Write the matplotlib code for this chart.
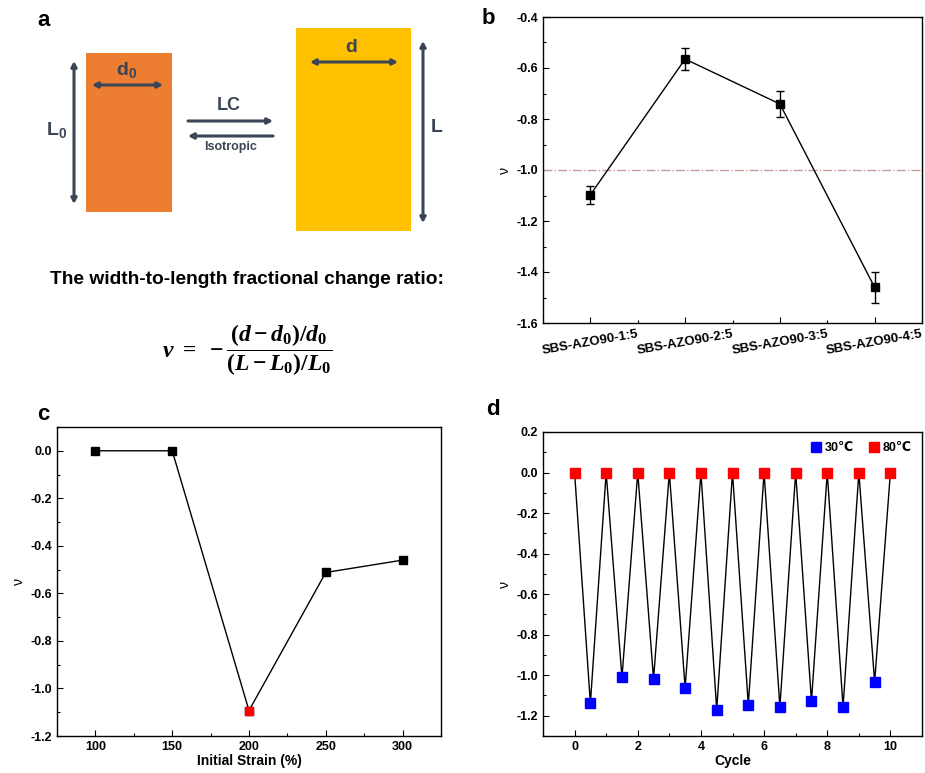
import matplotlib
matplotlib.use('Agg')
import matplotlib.pyplot as plt
from matplotlib.patches import Rectangle, FancyArrowPatch
from matplotlib.ticker import MultipleLocator, FormatStrFormatter
import numpy as np

plt.rcParams['font.family'] = ['Liberation Sans', 'DejaVu Sans']
plt.rcParams['font.weight'] = 'bold'
plt.rcParams['mathtext.fontset'] = 'custom'
plt.rcParams['mathtext.rm'] = 'Liberation Serif:bold'
plt.rcParams['mathtext.it'] = 'Liberation Serif:bold:italic'
plt.rcParams['mathtext.bf'] = 'Liberation Serif:bold'

# panel b data
samples = ['SBS-AZO90-1:5', 'SBS-AZO90-2:5', 'SBS-AZO90-3:5', 'SBS-AZO90-4:5']
ratio_b = [-1.097, -0.565, -0.741, -1.46]
err_b = [0.035, 0.042, 0.05, 0.06]

# panel c data
strain = [100, 150, 200, 250, 300]
ratio_c = [0.0, 0.0, -1.093, -0.512, -0.46]

# panel d data
cycle = [0, 0.5, 1, 1.5, 2, 2.5, 3, 3.5, 4, 4.5, 5, 5.5, 6, 6.5, 7, 7.5, 8, 8.5, 9, 9.5, 10]
ratio_d = [0.0, -1.139, 0.0, -1.011, 0.0, -1.019, 0.0, -1.063, 0.0, -1.170, 0.0,
           -1.145, 0.0, -1.157, 0.0, -1.129, 0.0, -1.157, 0.0, -1.034, 0.0]

W, H = 925, 773
fig = plt.figure(figsize=(W / 100, H / 100), dpi=100)


def fax(x0, y0, x1, y1):
    # pixel box -> figure axes
    return fig.add_axes([x0 / W, 1 - y1 / H, (x1 - x0) / W, (y1 - y0) / H])


def style(ax):
    ax.tick_params(which='both', direction='in', labelsize=9, width=0.8)
    ax.tick_params(which='major', length=4)
    ax.tick_params(which='minor', length=2.5)
    for s in ax.spines.values():
        s.set_linewidth(1.0)


# ---- panel a: schematic ----
axa = fax(0, 0, 470, 380)
axa.set_xlim(0, 470)
axa.set_ylim(380, 0)
axa.axis('off')
dark = '#3b4555'
axa.add_patch(Rectangle((86, 53), 86, 159, color='#ed7d31', lw=0))
axa.add_patch(Rectangle((296, 28), 115, 203, color='#ffc000', lw=0))


def arr(x0, y0, x1, y1, style_='<|-|>'):
    axa.add_patch(FancyArrowPatch((x0, y0), (x1, y1), arrowstyle=style_ + ',head_length=3,head_width=1.6',
                                  color=dark, lw=2.2, shrinkA=0, shrinkB=0))


arr(74, 61, 74, 204)
arr(92, 85, 163, 85)
arr(310, 62, 398, 62)
arr(423, 41, 423, 223)
arr(188, 121, 273, 121, '-|>')
arr(273, 136, 188, 136, '-|>')
axa.text(57, 130, r'$\mathregular{L_0}$', color=dark, fontsize=14, weight='bold', ha='center', va='center')
axa.text(127, 70, r'$\mathregular{d_0}$', color=dark, fontsize=14, weight='bold', ha='center', va='center')
axa.text(351, 47, 'd', color=dark, fontsize=14, weight='bold', ha='center', va='center')
axa.text(437, 127, 'L', color=dark, fontsize=14, weight='bold', ha='center', va='center')
axa.text(229, 106, 'LC', color=dark, fontsize=13, weight='bold', ha='center', va='center')
axa.text(231, 147, 'Isotropic', color=dark, fontsize=9, ha='center', va='center')
axa.text(44, 20, 'a', fontsize=16, weight='bold', ha='center', va='center')
axa.text(247, 280, 'The width-to-length fractional change ratio:', fontsize=13.8,
         weight='bold', ha='center', va='center')
axa.text(247, 350, r'$\nu\ =\ -\dfrac{(d-d_0)/d_0}{(L-L_0)/L_0}$', fontsize=17,
         ha='center', va='center')

# ---- panel b ----
axb = fax(543, 17, 922, 323)
xb = np.arange(len(samples))
axb.errorbar(xb, ratio_b, yerr=err_b, color='black', lw=1.0, marker='s', ms=5.5,
             capsize=3, elinewidth=1.0, capthick=1.0)
axb.axhline(-1.0, color='#c99a9a', lw=1.0, ls='-.')
axb.set_xlim(-0.5, 3.5)
axb.set_ylim(-1.6, -0.4)
axb.set_xticks(xb)
axb.set_xticklabels(samples, rotation=10, ha='center')
axb.xaxis.set_minor_locator(MultipleLocator(0.5))
axb.yaxis.set_major_locator(MultipleLocator(0.2))
axb.yaxis.set_minor_locator(MultipleLocator(0.1))
axb.yaxis.set_major_formatter(FormatStrFormatter('%.1f'))
axb.set_ylabel('ν', fontsize=10, weight='normal', labelpad=3)
style(axb)
axb.tick_params(axis='x', labelsize=9.5)
fig.text(488 / W, 1 - 18 / H, 'b', fontsize=16, weight='bold', ha='center', va='center')

# ---- panel c ----
axc = fax(57, 427, 441, 736)
axc.plot(strain, ratio_c, color='black', lw=1.0, marker='s', ms=5.5)
axc.plot(strain[2], ratio_c[2], ls='none', marker='s', ms=5.5, color='red')
axc.set_xlim(75, 325)
axc.set_ylim(-1.2, 0.1)
axc.set_xticks(strain)
axc.xaxis.set_minor_locator(MultipleLocator(25))
axc.yaxis.set_major_locator(MultipleLocator(0.2))
axc.yaxis.set_minor_locator(MultipleLocator(0.1))
axc.yaxis.set_major_formatter(FormatStrFormatter('%.1f'))
axc.set_xlabel('Initial Strain (%)', fontsize=10, weight='bold', labelpad=1)
axc.set_ylabel('ν', fontsize=10, weight='normal', labelpad=3)
style(axc)
fig.text(43 / W, 1 - 414 / H, 'c', fontsize=16, weight='bold', ha='center', va='center')

# ---- panel d ----
axd = fax(543, 432, 922, 736)
axd.plot(cycle, ratio_d, color='black', lw=1.0)
axd.plot(cycle[1::2], ratio_d[1::2], ls='none', marker='s', ms=6.5, color='blue', label='30℃')
axd.plot(cycle[0::2], ratio_d[0::2], ls='none', marker='s', ms=6.5, color='red', label='80℃')
axd.set_xlim(-1, 11)
axd.set_ylim(-1.3, 0.2)
axd.xaxis.set_major_locator(MultipleLocator(2))
axd.xaxis.set_minor_locator(MultipleLocator(1))
axd.yaxis.set_major_locator(MultipleLocator(0.2))
axd.yaxis.set_minor_locator(MultipleLocator(0.1))
axd.yaxis.set_major_formatter(FormatStrFormatter('%.1f'))
axd.set_xlabel('Cycle', fontsize=10, weight='bold', labelpad=1)
axd.set_ylabel('ν', fontsize=10, weight='normal', labelpad=3)
axd.legend(loc='upper right', ncol=2, frameon=False, fontsize=9, handlelength=0.8,
           handletextpad=0.3, columnspacing=1.2, borderaxespad=0.4)
style(axd)
fig.text(493 / W, 1 - 410 / H, 'd', fontsize=16, weight='bold', ha='center', va='center')

fig.savefig('out.png', dpi=100)
